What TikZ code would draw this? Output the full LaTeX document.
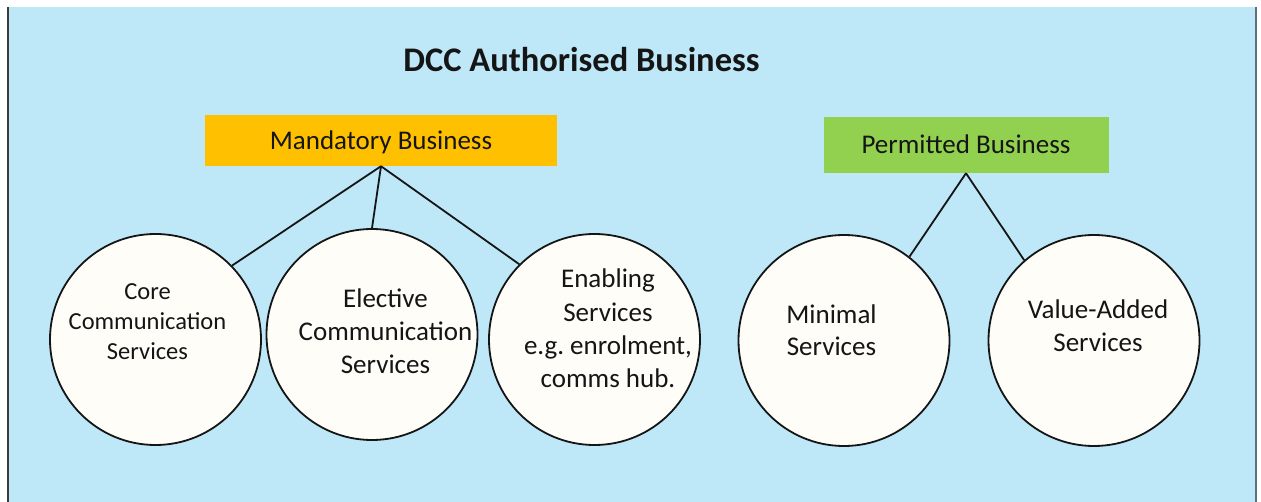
\documentclass[tikz,border=0pt]{standalone}
\usepackage{fontspec}
\setmainfont{Carlito}
\frenchspacing
\definecolor{sky}{HTML}{BEE8F8}
\definecolor{amber}{HTML}{FFC000}
\definecolor{leaf}{HTML}{92D050}
\definecolor{paper}{HTML}{FFFDF8}
\definecolor{ink}{HTML}{151515}
\definecolor{edgeL}{HTML}{3C3C3C}
\definecolor{edgeR}{HTML}{5C7080}
\begin{document}
\begin{tikzpicture}[x=1pt,y=-1pt,
  lbl/.style={text=ink, inner sep=0pt, align=center},
  headbox/.style={inner sep=0pt, text=ink, font=\fontsize{27}{32}\selectfont,
    text height=17.4pt, text depth=0pt},
  service/.style={circle, draw=ink, line width=1.8pt, fill=paper,
    minimum size=211pt, inner sep=0pt},
  link/.style={draw=ink, line width=1.8pt}]
  % canvas and coloured panel
  \useasboundingbox (0,0) rectangle (1261,502);
  \fill[white] (0,0) rectangle (1261,502);
  \fill[sky] (9,7) rectangle (1255,502);
  \draw[edgeL, line width=2.4pt] (8,7) -- (8,502);
  \draw[edgeR, line width=2.4pt] (1256,7) -- (1256,502);

  % title
  \node[lbl, anchor=base, font=\fontsize{34.5}{40}\selectfont\bfseries]
    (title) at (581.5,72) {DCC Authorised Business};

  % category boxes
  \node[headbox, fill=amber, minimum width=352pt, minimum height=51pt]
    (mand) at (381,140.5) {Mandatory Business};
  \node[headbox, fill=leaf, minimum width=285pt, minimum height=56pt]
    (perm) at (966,145) {Permitted Business};

  % service circles
  \node[service] (core) at (155.5,339.5) {};
  \node[service] (elec) at (372,334.5) {};
  \node[service] (enab) at (594.5,339.5) {};
  \node[service] (mini) at (844,340.5) {};
  \node[service] (vadd) at (1094,340.5) {};

  % circle captions
  \node[lbl, font=\fontsize{24.5}{30}\selectfont] (coreT) at (147.5,322)
    {Core\\Communication\\Services};
  \node[lbl, font=\fontsize{27}{33}\selectfont] (elecT) at (385.5,331.5)
    {Elective\\Communication\\Services};
  \node[lbl, font=\fontsize{27}{33.3}\selectfont] (enabT) at (608,328.5)
    {Enabling\\Services\\e.g. enrolment,\\comms hub.};
  \node[lbl, font=\fontsize{27}{32}\selectfont] (miniT) at (831.5,330)
    {Minimal\\Services};
  \node[lbl, font=\fontsize{27}{33}\selectfont] (vaddT) at (1098,325.5)
    {Value-Added\\Services};

  % connectors
  \draw[link] (mand.south) -- (core.44);
  \draw[link] (mand.south) -- (elec.90);
  \draw[link] (mand.south) -- (enab.135);
  \draw[link] (perm.south) -- (mini.52);
  \draw[link] (perm.south) -- (vadd.131);
\end{tikzpicture}
\end{document}
